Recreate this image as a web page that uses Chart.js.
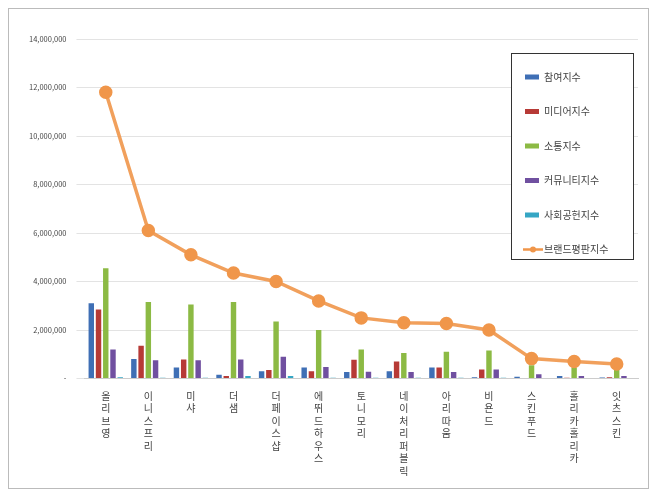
<!DOCTYPE html>
<html><head><meta charset="utf-8">
<script src="https://cdn.jsdelivr.net/npm/chart.js@4/dist/chart.umd.min.js"></script>
<style>
body{margin:0;background:#fff;}
#box{position:absolute;left:8px;top:8px;width:641px;height:481px;border:1px solid #bbb;box-sizing:border-box;}
canvas{position:absolute;left:0;top:0;}
</style></head><body>
<div id="box"><canvas id="c" width="639" height="479"></canvas></div>
<script>
const categories=["올리브영","이니스프리","미샤","더샘","더페이스샵","에뛰드하우스","토니모리","네이처리퍼블릭","아리따움","비욘드","스킨푸드","홀리카홀리카","잇츠스킨"];
const participation=[3100000,800000,450000,150000,300000,450000,270000,300000,450000,50000,70000,100000,40000];
const media=[2850000,1350000,780000,100000,350000,300000,770000,700000,450000,370000,20000,30000,50000];
const communication=[4550000,3150000,3050000,3150000,2350000,2000000,1200000,1050000,1100000,1150000,550000,450000,400000];
const community=[1200000,750000,750000,780000,900000,470000,280000,270000,270000,370000,180000,100000,100000];
const social=[50000,30000,30000,100000,100000,30000,30000,30000,30000,30000,20000,20000,20000];
const brandIndex=[11800000,6100000,5100000,4350000,4000000,3200000,2500000,2300000,2270000,2000000,820000,700000,600000];
const yTicks=[0,2000000,4000000,6000000,8000000,10000000,12000000,14000000];
const names=["참여지수","미디어지수","소통지수","커뮤니티지수","사회공헌지수","브랜드평판지수"];
const colors=["#3f6fb5","#b73a36","#8cba44","#7050a0","#35a6c4","#f0964a"];
const font="'Noto Sans CJK KR','Noto Sans',sans-serif";
const bars=[participation,media,communication,community,social].map((d,i)=>({type:'bar',label:names[i],data:d,backgroundColor:colors[i],barPercentage:0.75,categoryPercentage:0.85,order:2}));
const legendPlugin={id:'lg',afterDraw(ch){const c=ch.ctx;const x=502,y=44,w=122,h=206;c.save();c.strokeStyle='#333';c.lineWidth=1;c.fillStyle='#fff';c.fillRect(x,y,w,h);c.strokeRect(x+.5,y+.5,w,h);
c.font="10px "+font;c.textBaseline='middle';
names.forEach((n,i)=>{const yy=y+24+i*34.5;c.fillStyle=colors[i];
if(i<5){c.fillRect(x+14,yy-2.5,14,5);}else{c.strokeStyle=colors[i];c.lineWidth=2.5;c.beginPath();c.moveTo(x+12,yy);c.lineTo(x+32,yy);c.stroke();c.beginPath();c.arc(x+22,yy,3,0,7);c.fill();}
c.fillStyle='#444';c.fillText(n,x+33,yy);});c.restore();}};
new Chart(document.getElementById('c'),{
data:{labels:categories.map(s=>s.split('')),datasets:[...bars,{type:'line',label:names[5],data:brandIndex,borderColor:'rgba(240,150,74,0.9)',backgroundColor:'#f0964a',borderWidth:3.5,pointRadius:5,pointBackgroundColor:'#f0964a',pointBorderColor:'#f0964a',order:1}]},
options:{responsive:false,animation:false,
layout:{padding:{left:10,right:10,top:30,bottom:8}},
plugins:{legend:{display:false},tooltip:{enabled:false}},
scales:{x:{grid:{display:false},border:{color:'#ccc'},ticks:{maxRotation:0,autoSkip:false,color:'#444',font:{size:10,family:font,lineHeight:1.25}}},
y:{min:0,max:14000000,afterBuildTicks(a){a.ticks=yTicks.map(v=>({value:v}));},grid:{color:'#e3e3e3'},border:{display:false},
ticks:{color:'#444',font:{size:7.5,family:font},padding:10,callback:v=>v===0?'-':v.toLocaleString('en-US')}}}},
plugins:[legendPlugin]});
</script></body></html>
